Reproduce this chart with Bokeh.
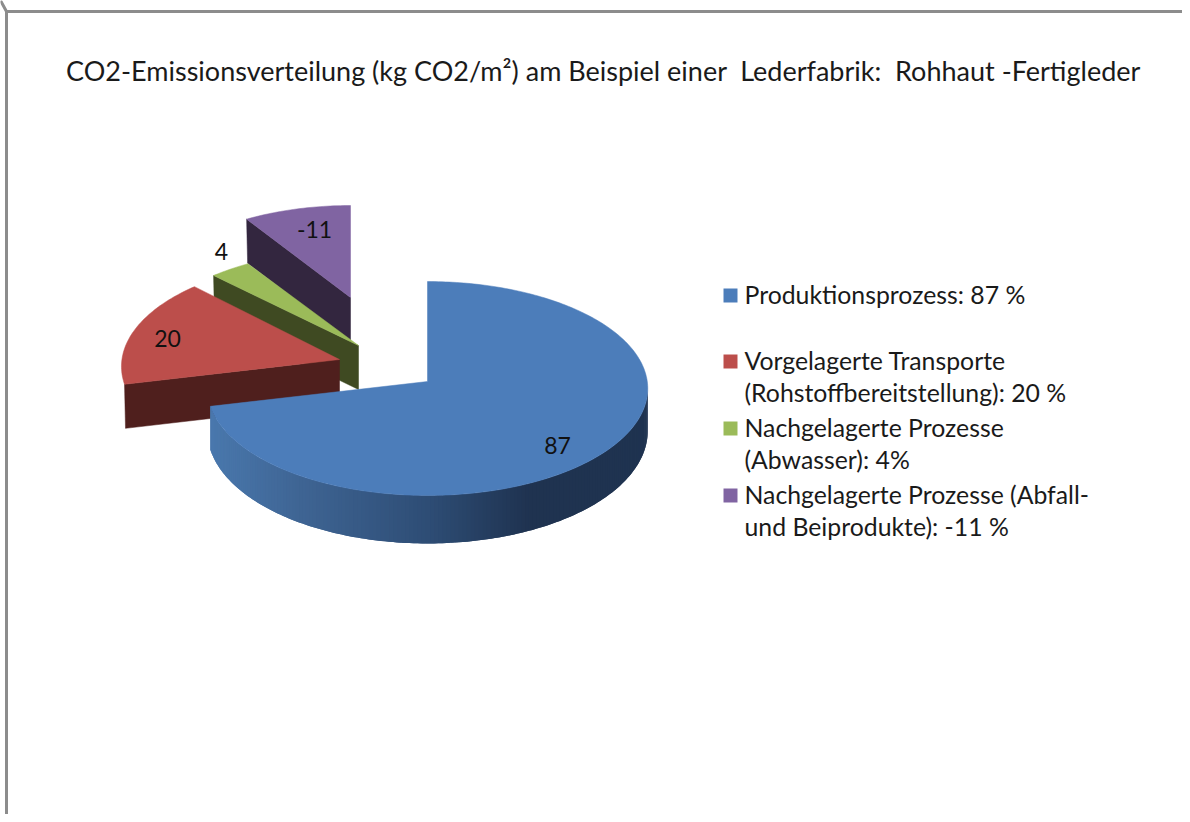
import math
from bokeh.plotting import figure
from bokeh.models import ColumnDataSource
from bokeh.core.properties import value
from bokeh.embed import file_html
from bokeh.resources import INLINE

# ---- data ----
title_text = "CO2-Emissionsverteilung (kg CO2/m²) am Beispiel einer \u00a0Lederfabrik: \u00a0Rohhaut -Fertigleder"
slice_values = [87, 20, 4, -11]
slice_labels = ["87", "20", "4", "-11"]
legend_entries = [
    ["Produktionsprozess: 87 %"],
    ["Vorgelagerte Transporte", "(Rohstoffbereitstellung): 20 %"],
    ["Nachgelagerte Prozesse", "(Abwasser): 4%"],
    ["Nachgelagerte Prozesse (Abfall-", "und Beiprodukte): -11 %"],
]

# ---- style / layout ----
FONT = "Lato"
top_colors = ["#4c7dba", "#bc4e4b", "#9bbb59", "#8064a2"]
side_colors = ["#1f3350", "#4f1f1d", "#3f4a22", "#33263f"]
centers = [(427, 381), (339, 359), (358, 345), (350, 297)]
scales = [1.0, 1.0, 0.96, 0.92]
x_scales = [0.99, 0.98, 1.02, 1.0]
label_pos = [(557, 445), (167, 338), (221, 251), (314, 229)]
legend_sq_y = [295, 361, 428, 495]
legend_line_y = [[294], [360, 392], [427, 459], [494, 526]]
RX, RY, PERSP = 222.0, 106.5, 0.0654
DEPTH = 44

p = figure(width=1182, height=814, x_range=(0, 1182), y_range=(814, 0),
           output_backend="svg", toolbar_location=None, min_border=0,
           background_fill_color="white", border_fill_color="white")
p.axis.visible = False
p.grid.visible = False
p.outline_line_color = None


def project(i, deg):
    t = math.radians(deg)
    f = 1 / (1 + PERSP * math.cos(t))
    cx, cy = centers[i]
    s = scales[i]
    return cx + s * x_scales[i] * RX * math.sin(t) * f, cy - s * RY * math.cos(t) * f


def arc_points(i, a0, a1, step=1.0):
    n = max(2, int(abs(a1 - a0) / step) + 1)
    return [project(i, a0 + (a1 - a0) * k / (n - 1)) for k in range(n)]


def wall_depth(deg):
    return 42 - 6 * math.cos(math.radians(deg))


total = sum(abs(v) for v in slice_values)
angles = [0.0]
for v in slice_values:
    angles.append(angles[-1] + abs(v) / total * 360.0)

# gradient of the rim of the big slice: (x, r, g, b)
grad = [(212, 74, 120, 173), (300, 63, 101, 148), (430, 46, 77, 117), (530, 31, 51, 80), (650, 31, 51, 80)]


def grad_color(x):
    for (x0, *c0), (x1, *c1) in zip(grad, grad[1:]):
        if x <= x1:
            u = max(0.0, (x - x0) / (x1 - x0))
            return "#%02x%02x%02x" % tuple(int(a + (b - a) * u) for a, b in zip(c0, c1))
    return "#1f3350"


def top_face(i):
    pts = arc_points(i, angles[i], angles[i + 1])
    cx, cy = centers[i]
    return [cx] + [q[0] for q in pts], [cy] + [q[1] for q in pts]


def radial_face(i):
    px, py = project(i, angles[i])
    cx, cy = centers[i]
    return [cx, px, px + 1, cx], [cy, py, py + DEPTH, cy + DEPTH]


# back to front: purple, green, red, blue
for i in [3, 2, 1]:
    xs, ys = radial_face(i)
    p.patch(xs, ys, fill_color=side_colors[i], line_color=side_colors[i], line_width=0.5)
    xs, ys = top_face(i)
    p.patch(xs, ys, fill_color=top_colors[i], line_color=top_colors[i], line_width=0.5)

# rim of the big slice: strips overlap the next one, so no seams show
rim_xs, rim_ys, rim_cols = [], [], []
a0, a1 = 92.0, angles[1]
steps = int(a1 - a0)
for k in range(steps):
    d0 = a0 + (a1 - a0) * k / steps
    d1 = a0 + (a1 - a0) * (k + 1) / steps
    d2 = min(a1, d1 + (a1 - a0) / steps)
    x0, y0 = project(0, d0)
    xm, ym = project(0, d1)
    x1, y1 = project(0, d2)
    rim_xs.append([x0, xm, x1, x1, xm, x0])
    rim_ys.append([y0, ym, y1, y1 + wall_depth(d2), ym + wall_depth(d1), y0 + wall_depth(d0)])
    rim_cols.append(grad_color((x0 + xm) / 2))
p.patches("x", "y", source=ColumnDataSource(dict(x=rim_xs, y=rim_ys, c=rim_cols)),
          fill_color="c", line_color=None)
xs, ys = top_face(0)
p.patch(xs, ys, fill_color=top_colors[0], line_color=top_colors[0], line_width=0.5)

# data labels
p.text([q[0] for q in label_pos], [q[1] for q in label_pos], text=slice_labels,
       text_font=value(FONT), text_font_size="23px", text_color="#111111",
       text_align="center", text_baseline="middle")

# title
p.text([603], [70], text=[title_text], text_font=value(FONT), text_font_size="27px",
       text_color="#1a1a1a", text_align="center", text_baseline="middle")

# legend
p.scatter([730] * 4, legend_sq_y, marker="square", size=14, color=top_colors, line_color=None)
lx, ly, lt = [], [], []
for lines, ypos in zip(legend_entries, legend_line_y):
    for t, y in zip(lines, ypos):
        lx.append(744); ly.append(y); lt.append(t)
p.text(lx, ly, text=lt, text_font=value(FONT), text_font_size="24.8px", text_color="#1a1a1a",
       text_align="left", text_baseline="middle")

# chart frame (only top and left are in view)
p.line([6, 6, None, 6, 1182], [814, 11, None, 11, 11], line_color="#8c8c8c", line_width=3)

open("out.html", "w").write(file_html(p, INLINE))
